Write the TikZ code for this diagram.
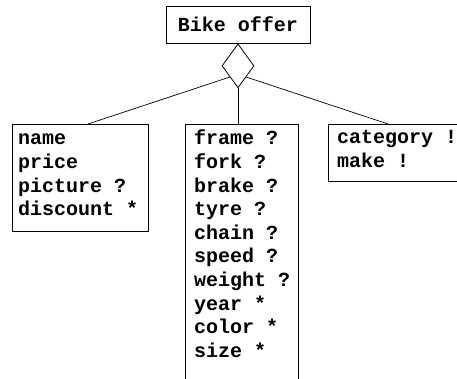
\documentclass[tikz,border=0pt]{standalone}
\usepackage{fontspec}
\setmonofont{Liberation Mono}
\usetikzlibrary{shapes.geometric}
\tikzset{
  box/.style={draw, line width=0.9pt, rectangle, inner sep=0pt},
  entries/.style={anchor=base west, inner sep=0pt, font=\ttfamily\bfseries\fontsize{20}{23.6}\selectfont},
  conn/.style={draw, line width=0.7pt},
}
\begin{document}
\begin{tikzpicture}[x=1pt, y=-1pt]
\useasboundingbox (0,0) rectangle (457,379);
\clip (0,0) rectangle (457,379);
\fill[white] (0,0) rectangle (457,379);
% top box
\node[box, minimum width=144pt, minimum height=37pt, font=\ttfamily\bfseries\fontsize{20}{24}\selectfont] (offer) at (238,24.5) {Bike offer};
% diamond
\node[draw, line width=0.8pt, diamond, inner sep=0pt, minimum width=32pt, minimum height=44pt, anchor=north] (rel) at (offer.south) {};
% boxes
\node[box, minimum width=136pt, minimum height=107pt, anchor=north west] (left) at (12,124) {};
\node[box, minimum width=113pt, minimum height=290pt, anchor=north west] (mid) at (185,124) {};
\node[box, minimum width=150pt, minimum height=57pt, anchor=north west] (right) at (328,124) {};
% entries
\node[entries] (lefttxt) at (18,145) {\parbox[t]{130pt}{name\\price\\picture ?\\discount *}};
\node[entries] (midtxt) at (194,145) {\parbox[t]{110pt}{frame ?\\fork ?\\brake ?\\tyre ?\\chain ?\\speed ?\\weight ?\\year *\\color *\\size *}};
\node[entries] (righttxt) at (337,143.5) {\parbox[t]{130pt}{category !\\make !}};
% connectors
\draw[conn] (rel.south west) -- ([xshift=76pt]left.north west);
\draw[conn] (rel.south) -- (rel.south |- mid.north);
\draw[conn] (rel.south east) -- ([xshift=60pt]right.north west);
\end{tikzpicture}
\end{document}
